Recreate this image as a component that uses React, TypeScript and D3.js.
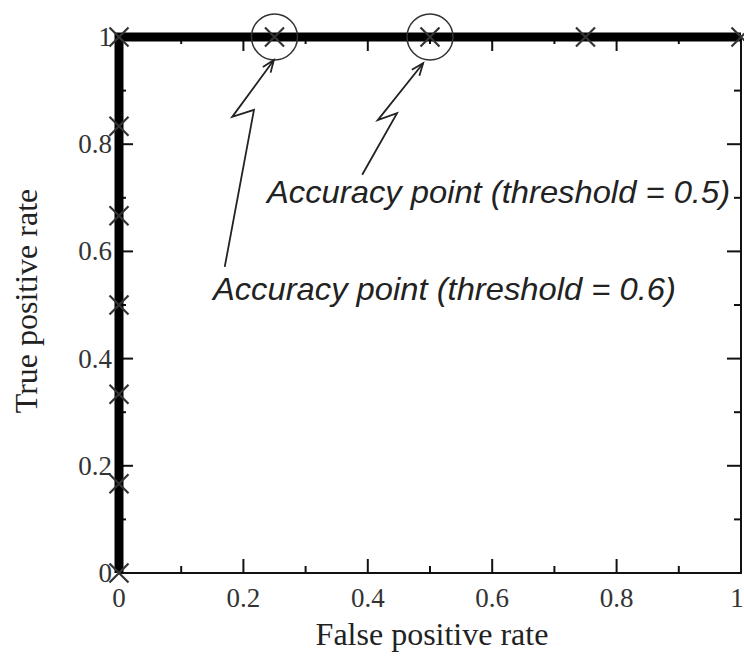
import React, { useEffect, useRef } from 'react'
import * as d3 from 'd3'

// ROC points (false positive rate, true positive rate)
const fpr = [0, 0, 0, 0, 0, 0, 0, 0.25, 0.5, 0.75, 1]
const tpr = [0, 1 / 6, 2 / 6, 3 / 6, 4 / 6, 5 / 6, 1, 1, 1, 1, 1]

// circled accuracy points
const circledX = [0.25, 0.5]
const circledY = [1, 1]

const majorTicks = [0, 0.2, 0.4, 0.6, 0.8, 1]
const minorTicks = [0.1, 0.3, 0.5, 0.7, 0.9]
const tickLabels = ['0', '0.2', '0.4', '0.6', '0.8', '1']

// annotation zigzag arrows, in data units
const arrow06X = [0.17, 0.217, 0.182, 0.249]
const arrow06Y = [0.571, 0.864, 0.851, 0.957]
const arrow05X = [0.391, 0.447, 0.416, 0.489]
const arrow05Y = [0.743, 0.858, 0.845, 0.951]

const noteLabels = ['Accuracy point (threshold = 0.5)', 'Accuracy point (threshold = 0.6)']
const noteX = [0.238, 0.151]
const noteY = [0.69, 0.51]

const W = 744
const H = 658

export default function App() {
  const ref = useRef<SVGSVGElement>(null)

  useEffect(() => {
    const svg = d3.select(ref.current)
    svg.selectAll('*').remove()

    const x = d3.scaleLinear().domain([0, 1]).range([119, 741])
    const y = d3.scaleLinear().domain([0, 1]).range([573, 37])
    const [x0, x1] = x.range()
    const [y0, y1] = y.range()

    const g = svg.append('g')

    // ticks on all four sides
    const tick = (vals: number[], len: number) => {
      vals.forEach(v => {
        g.append('line').attr('x1', x(v)).attr('x2', x(v)).attr('y1', y0).attr('y2', y0 - len)
        g.append('line').attr('x1', x(v)).attr('x2', x(v)).attr('y1', y1).attr('y2', y1 + len)
        g.append('line').attr('y1', y(v)).attr('y2', y(v)).attr('x1', x0).attr('x2', x0 + len)
        g.append('line').attr('y1', y(v)).attr('y2', y(v)).attr('x1', x1).attr('x2', x1 - len)
      })
    }
    tick(majorTicks.slice(1, -1), 14)
    tick(minorTicks, 7)
    g.selectAll('line').attr('stroke', '#111').attr('stroke-width', 2)

    // frame
    g.append('rect')
      .attr('x', x0).attr('y', y1)
      .attr('width', x1 - x0).attr('height', y0 - y1)
      .attr('fill', 'none').attr('stroke', '#111').attr('stroke-width', 2)

    // tick labels (last x label nudged in so it stays on the page)
    const serif = '"Liberation Serif", "Times New Roman", serif'
    g.selectAll('.xlab').data(majorTicks).join('text')
      .attr('class', 'xlab')
      .attr('x', d => Math.min(x(d), 737)).attr('y', 607)
      .attr('text-anchor', 'middle')
      .style('font-family', serif).style('font-size', '27px').style('fill', '#333')
      .text((d, i) => tickLabels[i])
    g.selectAll('.ylab').data(majorTicks).join('text')
      .attr('class', 'ylab')
      .attr('x', 112).attr('y', d => y(d) + 9)
      .attr('text-anchor', 'end')
      .style('font-family', serif).style('font-size', '27px').style('fill', '#333')
      .text((d, i) => tickLabels[i])

    // axis titles
    g.append('text')
      .attr('x', (x0 + x1) / 2 + 2).attr('y', 645)
      .attr('text-anchor', 'middle')
      .style('font-family', serif).style('font-size', '32px').style('fill', '#222')
      .text('False positive rate')
    g.append('text')
      .attr('transform', `translate(37, ${(y0 + y1) / 2 - 4}) rotate(-90)`)
      .attr('text-anchor', 'middle')
      .style('font-family', serif).style('font-size', '32px').style('fill', '#222')
      .text('True positive rate')

    // ROC curve
    const pts: [number, number][] = fpr.map((d, i) => [d, tpr[i]])
    const line = d3.line<[number, number]>().x(d => x(d[0])).y(d => y(d[1]))
    g.append('path')
      .attr('d', line(pts))
      .attr('fill', 'none').attr('stroke', '#000').attr('stroke-width', 9)
      .attr('stroke-linejoin', 'miter')

    // cross markers
    const s = 9.5
    g.selectAll('.cross').data(pts).join('path')
      .attr('class', 'cross')
      .attr('d', d => {
        const cx = x(d[0]), cy = y(d[1])
        return `M${cx - s},${cy - s}L${cx + s},${cy + s}M${cx - s},${cy + s}L${cx + s},${cy - s}`
      })
      .attr('stroke', '#333').attr('stroke-width', 2.2).attr('fill', 'none')

    // circles around accuracy points
    g.selectAll('.circ').data(circledX).join('circle')
      .attr('class', 'circ')
      .attr('cx', d => x(d)).attr('cy', (d, i) => y(circledY[i]))
      .attr('r', 23)
      .attr('fill', 'none').attr('stroke', '#333').attr('stroke-width', 1.5)

    // zigzag arrows
    const drawArrow = (ax: number[], ay: number[]) => {
      const p = ax.map((d, i) => [x(d), y(ay[i])] as [number, number])
      g.append('path')
        .attr('d', d3.line()(p))
        .attr('fill', 'none').attr('stroke', '#222').attr('stroke-width', 1.8)
      const [tx, ty] = p[p.length - 1]
      const [fx, fy] = p[p.length - 2]
      const ang = Math.atan2(ty - fy, tx - fx)
      const hl = 13, spread = 0.38
      const hp = `M${tx - hl * Math.cos(ang - spread)},${ty - hl * Math.sin(ang - spread)}L${tx},${ty}L${tx - hl * Math.cos(ang + spread)},${ty - hl * Math.sin(ang + spread)}`
      g.append('path').attr('d', hp)
        .attr('fill', 'none').attr('stroke', '#222').attr('stroke-width', 1.8)
    }
    drawArrow(arrow06X, arrow06Y)
    drawArrow(arrow05X, arrow05Y)

    // annotation texts
    g.selectAll('.note').data(noteLabels).join('text')
      .attr('class', 'note')
      .attr('x', (d, i) => x(noteX[i])).attr('y', (d, i) => y(noteY[i]))
      .attr('textLength', 463).attr('lengthAdjust', 'spacingAndGlyphs')
      .style('font-family', '"Liberation Sans", Arial, sans-serif')
      .style('font-style', 'italic')
      .style('font-size', '32px').style('fill', '#222')
      .text(d => d)
  }, [])

  return (
    <svg ref={ref} width={W} height={H}
      style={{ position: 'absolute', left: 0, top: 0, background: '#fff' }} />
  )
}
